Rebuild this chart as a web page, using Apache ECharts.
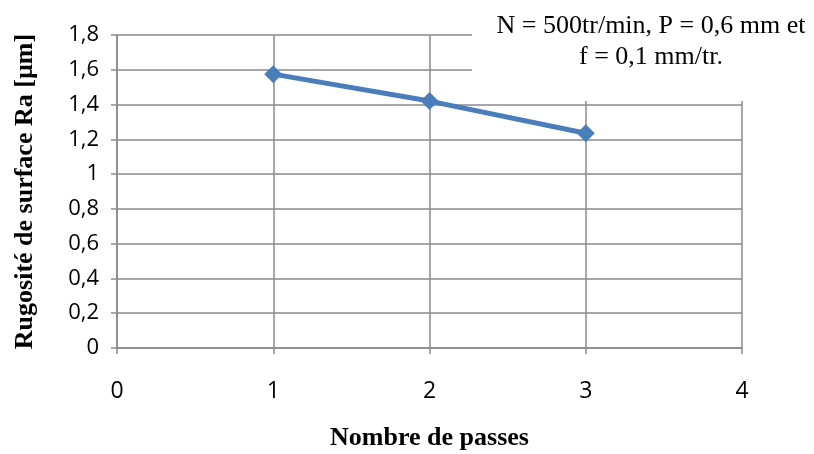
<!DOCTYPE html>
<html>
<head>
<meta charset="utf-8">
<script src="https://cdn.jsdelivr.net/npm/echarts@6/dist/echarts.min.js"></script>
<style>
  html, body { margin: 0; padding: 0; background: #fff; }
  #chart { width: 814px; height: 454px; }
</style>
</head>
<body>
<div id="chart"></div>
<script>
// Surface roughness versus number of passes
const passes = [1, 2, 3];
const roughness = [1.575, 1.42, 1.235];
const xTicks = [0, 1, 2, 3, 4];
const yTicks = ['0', '0,2', '0,4', '0,6', '0,8', '1', '1,2', '1,4', '1,6', '1,8'];
const noteLines = ['N = 500tr/min, P = 0,6 mm et', 'f = 0,1 mm/tr.'];

const gridColor = '#8a8a8a';
const tickFont = '"Open Sans", "Liberation Sans", sans-serif';
const titleFont = '"Liberation Serif", "DejaVu Serif", serif';

const chart = echarts.init(document.getElementById('chart'));
chart.setOption({
  animation: false,
  backgroundColor: '#fff',
  grid: { left: 117, right: 72, top: 35, bottom: 106, outerBoundsMode: 'none', containLabel: false },
  xAxis: {
    type: 'value',
    min: xTicks[0],
    max: xTicks[xTicks.length - 1],
    interval: 1,
    name: 'Nombre de passes',
    nameLocation: 'middle',
    nameGap: 77,
    nameTextStyle: { fontFamily: titleFont, fontWeight: 'bold', fontSize: 26, color: '#000' },
    axisLine: { show: true, onZero: false, lineStyle: { color: gridColor, width: 1.5 } },
    axisTick: { show: true, length: 6, lineStyle: { color: gridColor, width: 1.5 } },
    axisLabel: { margin: 32, fontFamily: tickFont, fontSize: 23, color: '#000',
      formatter: v => String(v) },
    splitLine: { show: true, lineStyle: { color: gridColor, width: 1.5 } }
  },
  yAxis: {
    type: 'value',
    min: 0,
    max: 1.8,
    interval: 0.2,
    name: 'Rugosité de surface Ra [µm]',
    nameLocation: 'middle',
    nameGap: 79,
    nameTextStyle: { fontFamily: titleFont, fontWeight: 'bold', fontSize: 26, color: '#000' },
    axisLine: { show: true, lineStyle: { color: gridColor, width: 1.5 } },
    axisTick: { show: true, length: 6, lineStyle: { color: gridColor, width: 1.5 } },
    axisLabel: { margin: 18, fontFamily: tickFont, fontSize: 22, color: '#000',
      formatter: v => yTicks[Math.round(v / 0.2)] },
    splitLine: { show: true, lineStyle: { color: gridColor, width: 1.5 } }
  },
  series: [{
    type: 'line',
    data: passes.map((p, i) => [p, roughness[i]]),
    symbol: 'diamond',
    symbolSize: 18,
    lineStyle: { color: '#4a7ebb', width: 5 },
    itemStyle: { color: '#4a7ebb' },
    z: 5
  }],
  graphic: [
    { type: 'rect', z: 100, shape: { x: 472, y: 0, width: 342, height: 101 },
      style: { fill: '#fff' } },
    { type: 'text', z: 101, x: 651, y: 26,
      style: { text: noteLines[0], fontFamily: titleFont, fontSize: 26, fill: '#000',
        textAlign: 'center', textVerticalAlign: 'middle' } },
    { type: 'text', z: 101, x: 651, y: 57,
      style: { text: noteLines[1], fontFamily: titleFont, fontSize: 26, fill: '#000',
        textAlign: 'center', textVerticalAlign: 'middle' } }
  ]
});
</script>
</body>
</html>
